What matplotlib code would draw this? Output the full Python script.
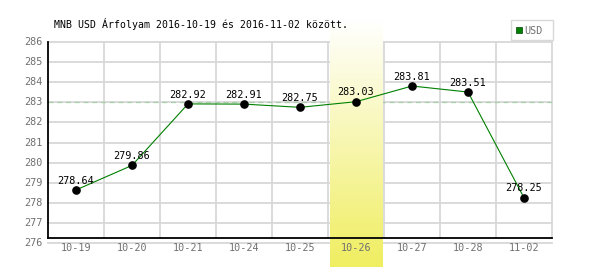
import numpy as np
import matplotlib
matplotlib.use("Agg")
import matplotlib.pyplot as plt
from matplotlib.patches import Rectangle

categories = ["10-19", "10-20", "10-21", "10-24", "10-25", "10-26", "10-27", "10-28", "11-02"]
values = [278.64, 279.86, 282.92, 282.91, 282.75, 283.03, 283.81, 283.51, 278.25]
yticks = [276, 277, 278, 279, 280, 281, 282, 283, 284, 285, 286]
title = "MNB USD Árfolyam 2016-10-19 és 2016-11-02 között."
series_name = "USD"
highlight = "10-26"
ref_level = 283

W, H = 600, 270
fig = plt.figure(figsize=(6, 2.7), dpi=100)
fig.patch.set_facecolor("white")

def fx(px):
    return px / W

def fy(py):
    return 1 - py / H

ax = fig.add_axes([fx(48), fy(243), fx(552) - fx(48), fy(42) - fy(243)])
ax.set_xlim(-0.5, len(categories) - 0.5)
ax.set_ylim(276, 286)
for s in ax.spines.values():
    s.set_visible(False)
ax.set_facecolor("none")

grid_c = "#d8d8d8"
x = np.arange(len(categories))
ybase = 276.25
# horizontal gridlines
for yv in yticks:
    ax.plot([-0.5, len(categories) - 0.5], [yv, yv], color=grid_c, lw=1.3, zorder=0.5, clip_on=False)
# vertical gridlines
for xv in np.arange(0.5, len(categories) + 0.5, 1.0):
    ax.plot([xv, xv], [ybase, 286], color=grid_c, lw=1.3, zorder=0.5, clip_on=False)
# reference dashed line
ax.plot([-0.5, len(categories) - 0.5], [ref_level, ref_level], color="#a8d0a8", lw=0.9,
        ls=(0, (4, 3)), zorder=0.6)

# highlight band gradient
hi = categories.index(highlight)
top_c = np.array([1.0, 1.0, 1.0])
bot_c = np.array([240, 238, 96]) / 255.0
t = np.linspace(0, 1, 256)[:, None]
grad = (top_c * (1 - t) + bot_c * t)[:, None, :]
y_top = 286 + 22 / 20.1
y_bot = 276 - 24 / 20.1
ax.imshow(grad, extent=[hi - 0.5 + 0.04, hi + 0.5 - 0.02, y_bot, y_top], aspect="auto",
          origin="upper", zorder=1, clip_on=False)
ax.set_xlim(-0.5, len(categories) - 0.5)
ax.set_ylim(276, 286)

# axis lines
ax.plot([-0.5, len(categories) - 0.5], [ybase, ybase], color="black", lw=1.3, zorder=3, clip_on=False)
ax.plot([-0.5, -0.5], [ybase, 286], color="black", lw=1.3, zorder=3, clip_on=False)

# series
ax.plot(x, values, color="#008000", lw=0.8, zorder=4, clip_on=False)
ax.plot(x, values, "o", color="black", ms=5.2, zorder=5, clip_on=False)

mono = "DejaVu Sans Mono"
for xi, v in zip(x, values):
    ax.annotate(f"{v:.2f}", (xi, v), xytext=(0, 4.6), textcoords="offset points",
                ha="center", va="baseline", fontsize=7.3, family=mono, color="black", zorder=6)

ax.set_xticks([])
ax.set_yticks([])
for xi, c in zip(x, categories):
    ax.text(xi, 276 - 5 / 20.1, c, ha="center", va="center", fontsize=7.3, family=mono,
            color="#707070", zorder=6)
for yv in yticks:
    ax.text(-0.5 - 5 / 56, yv, str(yv), ha="right", va="center", fontsize=7.3, family=mono,
            color="#707070", zorder=6)

fig.text(fx(54), fy(24), title, ha="left", va="center", fontsize=7.1, family=mono, color="black")

# legend
fig.patches.append(Rectangle((fx(511), fy(40)), fx(42), 20 / H, transform=fig.transFigure,
                             facecolor="white", edgecolor="#d8d8d8", lw=1.0))
fig.patches.append(Rectangle((fx(516), fy(33)), fx(6), 6 / H, transform=fig.transFigure,
                             facecolor="#008000", edgecolor="#004000", lw=0.5))
fig.text(fx(524), fy(30.5), series_name, ha="left", va="center", fontsize=7.3, family=mono,
         color="#707070")

fig.savefig("out.png", dpi=100)
